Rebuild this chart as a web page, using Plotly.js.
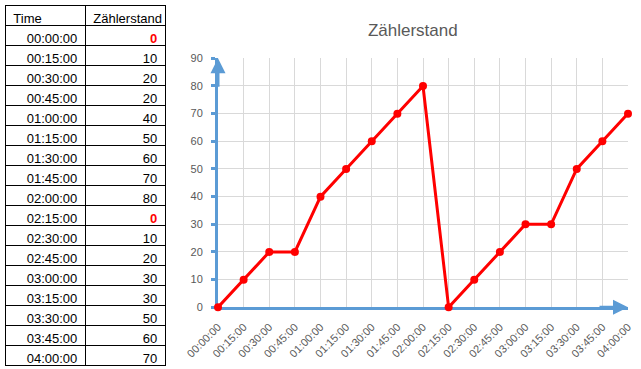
<!DOCTYPE html>
<html>
<head>
<meta charset="utf-8">
<script src="https://cdn.plot.ly/plotly-3.0.1.min.js"></script>
<style>html,body{margin:0;padding:0;background:#fff;}#chart{width:641px;height:369px;}</style>
</head>
<body>
<div id="chart"></div>
<script>
// ---- data ----
const times = ["00:00:00","00:15:00","00:30:00","00:45:00","01:00:00","01:15:00","01:30:00","01:45:00","02:00:00","02:15:00","02:30:00","02:45:00","03:00:00","03:15:00","03:30:00","03:45:00","04:00:00"];
const values = [0,10,20,20,40,50,60,70,80,0,10,20,30,30,50,60,70];
const headers = ["Time","Zählerstand"];
const chartTitle = "Zählerstand";
const yMax = 90;
const yStep = 10;

// ---- styles ----
const FONT = "Liberation Sans, Arial, sans-serif";
const AXIS_BLUE = "#5B9BD5";
const GRID = "#D9D9D9";
const LABEL = "#595959";
const W = 641, H = 369;

const last = times.length - 1;
const halfTicks = times.slice(1).map((_, i) => i + 0.5);
const yTicks = [];
for (let v = 0; v <= yMax; v += yStep) yTicks.push(v);

const valueLabels = values.map(v => String(v));
const valueColors = values.map(v => v === 0 ? "#FF0000" : "#000000");
const valueWeights = values.map(v => v === 0 ? "bold" : "normal");
const timeColors = times.map(() => "#000000");
const timeWeights = times.map(() => "normal");

const table = {
  type: "table",
  domain: {x: [5.3 / W, 165.7 / W], y: [0, 1 - 5.3 / H]},
  columnwidth: [80, 80],
  header: {
    values: headers,
    align: ["left", "left"],
    height: 20,
    line: {color: "#000000", width: 1},
    fill: {color: "#FFFFFF"},
    font: {family: FONT, size: 13, color: "#000000"}
  },
  cells: {
    values: [times, valueLabels],
    align: ["right", "right"],
    height: 20,
    line: {color: "#000000", width: 1},
    fill: {color: "#FFFFFF"},
    font: {family: FONT, size: 13, color: [timeColors, valueColors], weight: [timeWeights, valueWeights]}
  }
};

const line = {
  type: "scatter",
  mode: "lines+markers",
  x: times,
  y: values,
  xaxis: "x",
  yaxis: "y",
  line: {color: "#FF0000", width: 3},
  marker: {color: "#FF0000", size: 8},
  cliponaxis: false,
  showlegend: false,
  hoverinfo: "x+y"
};

const yDom = [(H - 307.3) / H, (H - 58.3) / H];
const xDom = [218 / W, 628 / W];

const layout = {
  width: W, height: H,
  margin: {l: 0, r: 0, t: 0, b: 0},
  paper_bgcolor: "#FFFFFF",
  plot_bgcolor: "#FFFFFF",
  showlegend: false,
  title: {
    text: chartTitle,
    x: 412.8 / W, xref: "paper", xanchor: "center",
    y: 1 - 30.5 / H, yref: "paper", yanchor: "middle",
    font: {family: FONT, size: 17, color: LABEL}
  },
  xaxis: {
    type: "category",
    domain: xDom, anchor: "y",
    range: [0, last],
    showgrid: true, gridcolor: GRID, gridwidth: 1,
    showline: true, linecolor: AXIS_BLUE, linewidth: 3,
    ticks: "", tickangle: -45,
    ticklabelstandoff: 6,
    tickfont: {family: FONT, size: 11, color: LABEL},
    zeroline: false, layer: "below traces", fixedrange: true
  },
  xaxis2: {
    overlaying: "x", anchor: "y", domain: xDom,
    type: "linear", range: [0, last],
    tickmode: "array", tickvals: halfTicks,
    ticks: "outside", ticklen: 4, tickwidth: 3, tickcolor: AXIS_BLUE,
    showticklabels: false, showgrid: false, zeroline: false, showline: false,
    layer: "below traces", fixedrange: true
  },
  xaxis3: {
    overlaying: "x", anchor: "y", domain: xDom,
    type: "linear", range: [0, last],
    tickmode: "array", tickvals: halfTicks,
    ticks: "inside", ticklen: 4, tickwidth: 3, tickcolor: AXIS_BLUE,
    showticklabels: false, showgrid: false, zeroline: false, showline: false,
    layer: "below traces", fixedrange: true
  },
  yaxis: {
    domain: yDom, anchor: "x",
    range: [0, yMax],
    tickmode: "array", tickvals: yTicks,
    showgrid: true, gridcolor: GRID, gridwidth: 1,
    showline: true, linecolor: AXIS_BLUE, linewidth: 3,
    ticks: "outside", ticklen: 4, tickwidth: 3, tickcolor: AXIS_BLUE,
    ticklabelstandoff: 6,
    tickfont: {family: FONT, size: 11, color: LABEL},
    zeroline: false, layer: "below traces", fixedrange: true
  },
  yaxis2: {
    overlaying: "y", anchor: "x", domain: yDom,
    range: [0, yMax],
    tickmode: "array", tickvals: yTicks,
    ticks: "inside", ticklen: 4, tickwidth: 3, tickcolor: AXIS_BLUE,
    showticklabels: false, showgrid: false, zeroline: false, showline: false,
    layer: "below traces", fixedrange: true
  },
  annotations: [
    {x: last, y: 0, xref: "x", yref: "y", ax: -30, ay: 0, text: "",
     showarrow: true, arrowhead: 2, arrowsize: 1, arrowwidth: 3, arrowcolor: AXIS_BLUE},
    {x: 0, y: yMax, xref: "x", yref: "y", ax: 0, ay: 30, text: "",
     showarrow: true, arrowhead: 2, arrowsize: 1, arrowwidth: 3, arrowcolor: AXIS_BLUE}
  ]
};

Plotly.newPlot("chart", [table, line], layout, {displayModeBar: false, staticPlot: true});
</script>
</body>
</html>
